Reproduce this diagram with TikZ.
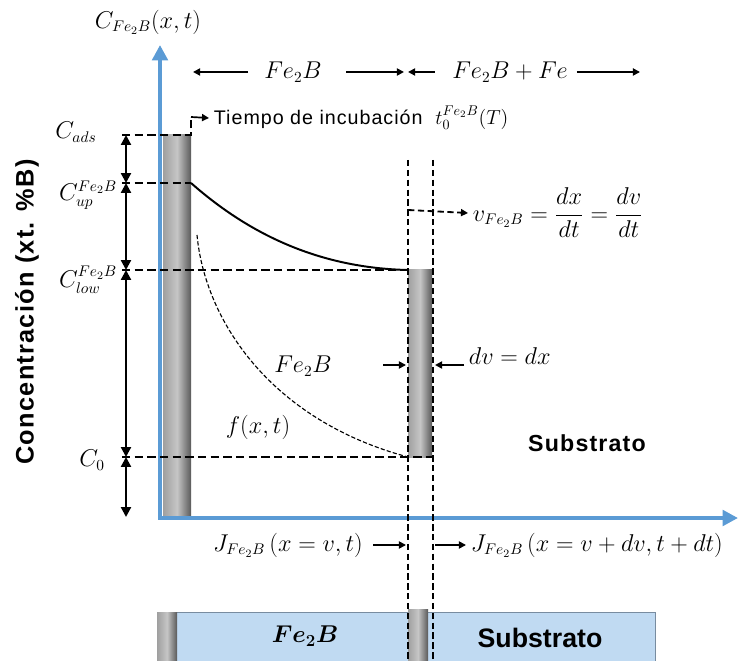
\documentclass[tikz,border=0pt]{standalone}
\usepackage{tikz}
\usetikzlibrary{arrows.meta, positioning, calc}
\usepackage{amsmath, amssymb}
\usepackage{fontspec}
\newfontfamily\arialfont{Liberation Sans}
\newfontfamily\arialwide[LetterSpace=5]{Liberation Sans}
\definecolor{axisblue}{RGB}{91, 155, 213}
\definecolor{layerblue}{RGB}{192, 218, 242}
\definecolor{layerline}{RGB}{120, 140, 160}

\begin{document}
\begin{tikzpicture}[
      x=0.025cm, y=-0.025cm,
      axis/.style={line width=3.5pt, axisblue, {Triangle[length=11pt, width=11pt]}-{Triangle[length=11pt, width=11pt]}},
      guide/.style={line width=1.4pt, dash pattern=on 6pt off 3pt},
      front/.style={line width=1.3pt, dash pattern=on 4.5pt off 2.5pt},
      level/.style={{Triangle[length=7pt, width=7pt]}-{Triangle[length=7pt, width=7pt]}, line width=1.6pt},
      arr/.style={-{Triangle[length=5pt, width=5pt]}, line width=1.2pt},
      bar/.style={left color=gray!75, right color=black!65, middle color=gray!45},
      mathlbl/.style={font=\fontsize{16}{19}\selectfont},
      sanslbl/.style={font=\fontsize{14}{17}\selectfont\arialwide},
      sansbold/.style={font=\fontsize{16.5}{20}\selectfont\bfseries\arialwide}
    ]
      \useasboundingbox (0,0) rectangle (740,661);

      \draw[layerline, fill=layerblue] (157,612) rectangle (655,661);
      \shade[bar] (157,612) rectangle (177,661);
      \shade[bar] (408,609) rectangle (428,661);
      \node[font=\fontsize{18}{21}\selectfont] (fecapa) at (305,636) {$\boldsymbol{Fe_2B}$};
      \node[font=\fontsize{19}{22}\selectfont\bfseries\arialfont] (subcapa) at (540,638) {Substrato};

      \shade[bar] (163,135) rectangle (191,518);
      \shade[bar] (408,270) rectangle (432,457);

      \draw[axis] (160,45) -- (160,518) -- (738,518);

      \draw[guide] (122,135) -- (191,135) -- (191,117);
      \draw[guide] (122,183) -- (191,183);
      \draw[guide] (122,270) -- (408,270);
      \draw[guide] (122,457) -- (432,457);
      \draw[front] (408,160) -- (408,661);
      \draw[front] (433,160) -- (433,661);

      \draw[line width=1.4pt] (191,183) .. controls (250,235) and (320,268) .. (408,270);
      \draw[line width=0.8pt, dash pattern=on 3pt off 1.5pt] (197,235) .. controls (205,320) and (270,420) .. (408,457);

      \draw[level] (126,135) -- (126,183);
      \draw[level] (126,183) -- (126,270);
      \draw[level] (126,270) -- (126,457);
      \draw[level] (126,457) -- (126,517);

      \node[mathlbl] (ctop) at (148,22) {$C_{Fe_2B}(x,t)$};
      \node[mathlbl] (cads) at (76,132) {$C_{ads}$};
      \node[mathlbl] (cup) at (88,195) {$C_{up}^{Fe_2B}$};
      \node[mathlbl] (clow) at (88,280) {$C_{low}^{Fe_2B}$};
      \node[mathlbl] (czero) at (92,460) {$C_0$};
      \node[font=\fontsize{18}{21}\selectfont\bfseries\arialwide, rotate=90] (yname) at (27,312) {Concentración (xt. \%B)};

      \node[mathlbl] (fetop) at (293,72) {$Fe_2B$};
      \node[mathlbl] (fefe) at (510,72) {$Fe_2B+Fe$};
      \coordinate (zoneA) at (193,72);
      \coordinate (zoneB) at (404,72);
      \coordinate (zoneC) at (408,72);
      \coordinate (zoneD) at (640,72);
      \draw[arr, shorten <=8pt] (fetop.west) -- (zoneA);
      \draw[arr, shorten <=14pt] (fetop.east) -- (zoneB);
      \draw[arr, shorten <=9pt] (fefe.west) -- (zoneC);
      \draw[arr, shorten <=3pt] (fefe.east) -- (zoneD);

      \node[sanslbl, anchor=west] (incub) at (209,118) {Tiempo de incubación\ \ $t_0^{Fe_2B}(T)$};
      \draw[arr] (191,117) -- (incub.west);

      \node[mathlbl, anchor=west] (vel) at (468,213) {$v_{Fe_2B}=\dfrac{dx}{dt}=\dfrac{dv}{dt}$};
      \draw[front, -{Triangle[length=5pt, width=5pt]}] (408,210) -- (vel.west);

      \node[mathlbl] (femid) at (303,366) {$Fe_2B$};
      \node[mathlbl, anchor=west] (dvdx) at (464,356) {$dv=dx$};
      \draw[arr] (383,365) -- (406,365);
      \draw[arr] (dvdx.west |- 0,365) -- (435,365);

      \node[mathlbl] (fxt) at (258,427) {$f(x,t)$};
      \node[sansbold] (subs) at (587,443) {Substrato};

      \node[mathlbl] (jin) at (288,545) {$J_{Fe_2B}\,(x=v,t)$};
      \node[mathlbl, anchor=west] (jout) at (466,545) {$J_{Fe_2B}\,(x=v+dv,t+dt)$};
      \draw[arr, shorten <=4pt] (jin.east) -- (406,545);
      \draw[arr] (435,545) -- (jout.west);
    \end{tikzpicture}
\end{document}
